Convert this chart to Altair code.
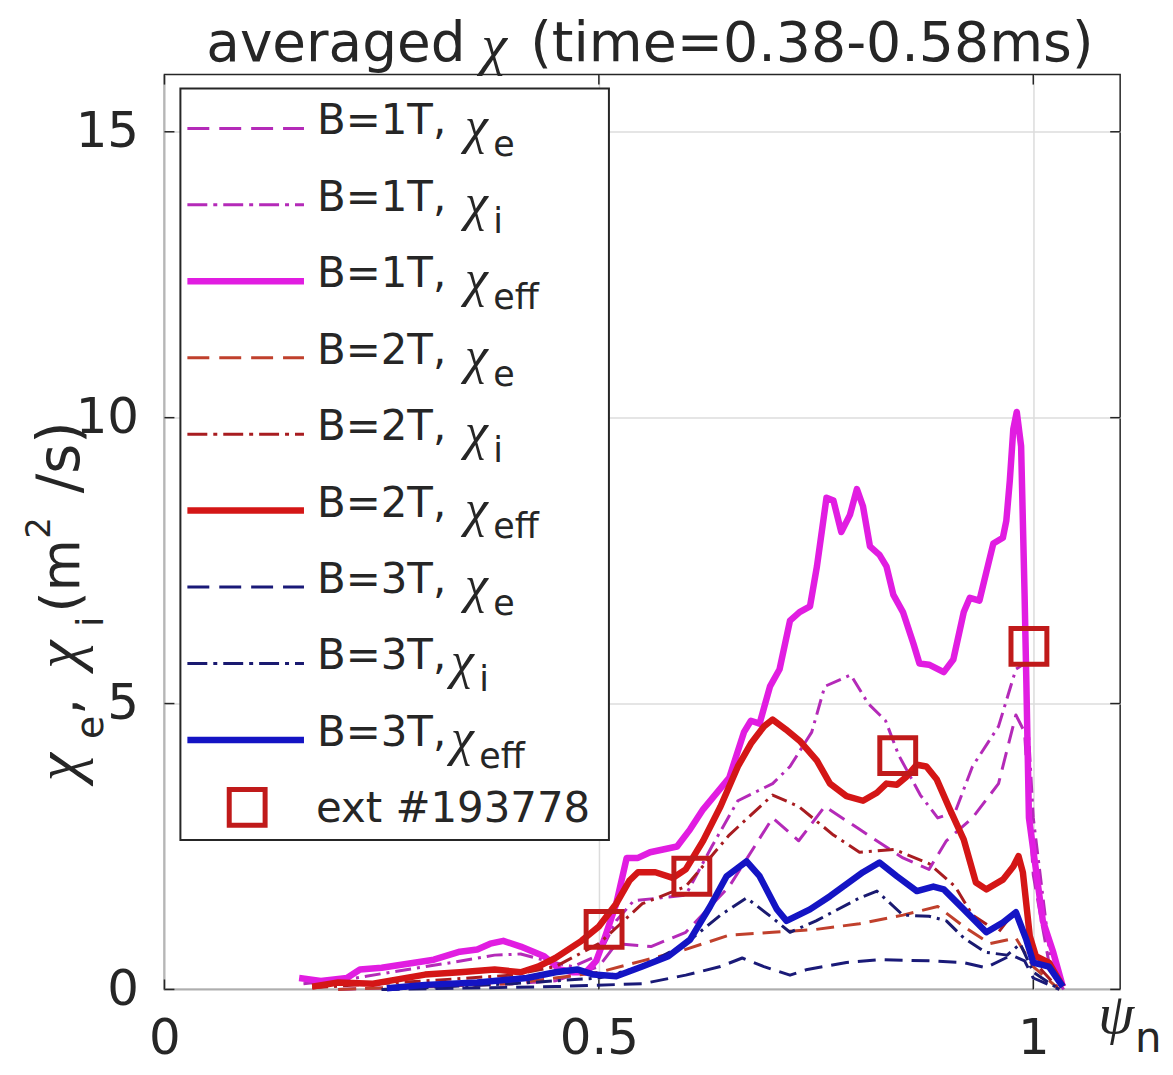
import altair as alt
import pandas as pd

# ---------------- data ----------------
X_TICKS = [0, 0.5, 1]
Y_TICKS = [0, 5, 10, 15]

B1_EFF_X = [0.155, 0.18, 0.21, 0.225, 0.25, 0.28, 0.31, 0.34, 0.36, 0.375, 0.39, 0.41, 0.437, 0.455, 0.47, 0.485,
            0.497, 0.506, 0.52, 0.532, 0.545, 0.559, 0.59, 0.605, 0.62, 0.65, 0.667, 0.675, 0.685, 0.697, 0.708,
            0.72, 0.731, 0.743, 0.751, 0.762, 0.77, 0.779, 0.789, 0.797, 0.804, 0.812, 0.823, 0.831, 0.839, 0.85,
            0.862, 0.869, 0.88, 0.897, 0.908, 0.92, 0.927, 0.938, 0.946, 0.954, 0.965, 0.969, 0.973, 0.977, 0.981,
            0.986, 0.988, 0.99, 0.992, 0.995, 1.011, 1.023, 1.034]
B1_EFF_Y = [0.2, 0.15, 0.2, 0.35, 0.38, 0.45, 0.52, 0.66, 0.7, 0.8, 0.85, 0.75, 0.58, 0.35, 0.3, 0.3,
            0.5, 0.87, 1.5, 2.3, 2.3, 2.4, 2.5, 2.8, 3.15, 3.7, 4.5, 4.7, 4.65, 5.3, 5.6,
            6.45, 6.6, 6.7, 7.4, 8.6, 8.55, 8.0, 8.3, 8.75, 8.45, 7.75, 7.6, 7.4, 6.9, 6.6,
            6.05, 5.7, 5.68, 5.55, 5.77, 6.6, 6.85, 6.8, 7.3, 7.8, 7.9, 8.2, 8.9, 9.8, 10.1,
            9.5, 8.2, 6.9, 5.4, 3.0, 1.2, 0.65, 0.05]

B1_I_X = [0.16, 0.22, 0.28, 0.33, 0.38, 0.41, 0.44, 0.47, 0.5, 0.52, 0.54, 0.57, 0.6, 0.63, 0.66, 0.7, 0.72,
          0.745, 0.76, 0.79, 0.81, 0.83, 0.845, 0.87, 0.89, 0.91, 0.93, 0.96, 0.98, 0.99, 1.0, 1.02, 1.035]
B1_I_Y = [0.1, 0.2, 0.35, 0.47, 0.6, 0.62, 0.5, 0.4, 0.6, 1.2, 1.55, 1.6, 1.65, 2.5, 3.3, 3.6, 3.9,
          4.5, 5.3, 5.5, 5.0, 4.7, 4.1, 3.4, 3.0, 3.1, 3.9, 4.6, 5.6, 5.7, 3.0, 0.5, 0.0]

B1_E_X = [0.2, 0.3, 0.4, 0.45, 0.5, 0.52, 0.56, 0.6, 0.65, 0.7, 0.73, 0.76, 0.8, 0.85, 0.88, 0.9, 0.93,
          0.96, 0.98, 0.99, 1.0, 1.02, 1.035]
B1_E_Y = [0.0, 0.05, 0.1, 0.15, 0.4, 0.8, 0.75, 1.0, 1.8, 3.0, 2.6, 3.2, 2.8, 2.3, 2.1, 2.6, 3.0,
          3.6, 4.8, 4.5, 2.0, 0.3, 0.0]

B2_EFF_X = [0.17, 0.2, 0.24, 0.27, 0.3, 0.34, 0.38, 0.41, 0.43, 0.45, 0.48, 0.5, 0.52, 0.535, 0.545, 0.565,
            0.585, 0.6, 0.62, 0.64, 0.66, 0.675, 0.69, 0.7, 0.715, 0.731, 0.751, 0.766, 0.785, 0.804, 0.82,
            0.831, 0.843, 0.854, 0.866, 0.877, 0.889, 0.904, 0.92, 0.934, 0.946, 0.965, 0.977, 0.983, 0.988,
            0.996, 1.003, 1.018, 1.034]
B2_EFF_Y = [0.05, 0.12, 0.1, 0.18, 0.26, 0.3, 0.35, 0.3, 0.4, 0.55, 0.85, 1.1, 1.5, 1.9, 2.05, 2.05,
            1.95, 2.1, 2.6, 3.2, 3.9, 4.3, 4.6, 4.72, 4.55, 4.35, 4.0, 3.6, 3.38, 3.3, 3.44,
            3.6, 3.58, 3.72, 3.93, 3.9, 3.67, 3.15, 2.62, 1.87, 1.75, 1.92, 2.15, 2.33, 2.05,
            0.93, 0.58, 0.47, 0.05]

B2_I_X = [0.17, 0.3, 0.4, 0.45, 0.5, 0.55, 0.6, 0.65, 0.7, 0.73, 0.77, 0.8, 0.84, 0.88, 0.91, 0.93, 0.96,
          0.98, 1.0, 1.03]
B2_I_Y = [0.03, 0.15, 0.25, 0.4, 0.8, 1.5, 1.8, 2.7, 3.4, 3.2, 2.7, 2.4, 2.45, 2.2, 1.8, 1.3, 1.0,
          1.4, 0.5, 0.0]

B2_E_X = [0.2, 0.4, 0.5, 0.55, 0.6, 0.65, 0.7, 0.75, 0.8, 0.85, 0.89, 0.92, 0.95, 0.98, 1.0, 1.03]
B2_E_Y = [0.0, 0.1, 0.3, 0.5, 0.7, 0.95, 1.0, 1.05, 1.15, 1.3, 1.45, 1.1, 0.8, 0.9, 0.4, 0.0]

B3_EFF_X = [0.256, 0.3, 0.36, 0.417, 0.45, 0.475, 0.494, 0.52, 0.55, 0.58, 0.605, 0.628, 0.647, 0.67, 0.685,
            0.705, 0.716, 0.743, 0.766, 0.804, 0.823, 0.843, 0.866, 0.885, 0.897, 0.92, 0.946, 0.965, 0.98,
            0.992, 1.0, 1.018, 1.034]
B3_EFF_Y = [0.02, 0.08, 0.12, 0.2, 0.3, 0.35, 0.26, 0.23, 0.4, 0.58, 0.87, 1.45, 1.98, 2.24, 1.98,
            1.4, 1.2, 1.4, 1.63, 2.05, 2.22, 1.98, 1.72, 1.8, 1.75, 1.4, 1.0, 1.17, 1.35,
            0.87, 0.47, 0.4, 0.05]

B3_I_X = [0.25, 0.4, 0.5, 0.55, 0.6, 0.64, 0.67, 0.7, 0.72, 0.75, 0.8, 0.82, 0.85, 0.88, 0.9, 0.92, 0.945,
          0.97, 0.985, 1.0, 1.03]
B3_I_Y = [0.0, 0.1, 0.2, 0.4, 0.8, 1.3, 1.6, 1.25, 1.0, 1.2, 1.6, 1.72, 1.3, 1.28, 1.2, 0.9, 0.65,
          0.6, 0.8, 0.3, 0.0]

B3_E_X = [0.25, 0.45, 0.55, 0.6, 0.64, 0.665, 0.69, 0.72, 0.74, 0.785, 0.823, 0.88, 0.92, 0.945, 0.975,
          0.99, 1.0, 1.03]
B3_E_Y = [0.0, 0.05, 0.1, 0.25, 0.4, 0.55, 0.4, 0.25, 0.35, 0.47, 0.52, 0.5, 0.47, 0.38, 0.6,
          0.5, 0.2, 0.0]

EXT_X = [0.506, 0.607, 0.844, 0.995]
EXT_Y = [1.05, 1.98, 4.09, 6.0]

SERIES_B = ["B=1T,", "B=1T,", "B=1T,", "B=2T,", "B=2T,", "B=2T,", "B=3T,", "B=3T,", "B=3T,"]
SERIES_SUB = ["e", "i", "eff", "e", "i", "eff", "e", "i", "eff"]
EXT_LABEL = "ext #193778"
TITLE_A = "averaged"
TITLE_B = "(time=0.38-0.58ms)"

# ---------------- styles ----------------
W, H = 959, 918
INK = "#262626"
SANS = "DejaVu Sans"
SERIF = "Liberation Serif"
C1_THIN, C1 = "#B42AB8", "#E11DE1"
C2_E, C2_I, C2 = "#C0402C", "#A81C20", "#D41616"
C3_E, C3_I, C3 = "#1A1A78", "#1A1A70", "#1414C4"
SQ = "#C01A1A"
DASH = [18, 9]
DASHDOT = [16, 6, 3, 6]

series = [
    (B1_E_X, B1_E_Y, C1_THIN, DASH, 3),
    (B1_I_X, B1_I_Y, C1_THIN, DASHDOT, 3),
    (B1_EFF_X, B1_EFF_Y, C1, None, 6.5),
    (B2_E_X, B2_E_Y, C2_E, DASH, 3),
    (B2_I_X, B2_I_Y, C2_I, DASHDOT, 3),
    (B2_EFF_X, B2_EFF_Y, C2, None, 6.5),
    (B3_E_X, B3_E_Y, C3_E, DASH, 3),
    (B3_I_X, B3_I_Y, C3_I, DASHDOT, 3),
    (B3_EFF_X, B3_EFF_Y, C3, None, 6.5),
]

x_scale = alt.Scale(domain=[0, 1.1], nice=False, zero=False)
y_scale = alt.Scale(domain=[0, 16], nice=False, zero=False)
x_axis = alt.Axis(values=X_TICKS, title=None, grid=True, domain=False, ticks=False, labelFlush=False,
                  labelFontSize=50, labelPadding=24,
                  labelExpr="datum.value == 0 ? '0' : datum.value == 1 ? '1' : datum.label")
y_axis = alt.Axis(values=Y_TICKS, title=None, grid=True, domain=False, ticks=False, labelFlush=False,
                  labelFontSize=50, labelPadding=26)

one = pd.DataFrame({"k": [0]})
layers = []

# inside tick marks
xt = pd.DataFrame({"psi": X_TICKS})
yt = pd.DataFrame({"chi": Y_TICKS})
for y0, y1 in [(H, H - 10), (0, 10)]:
    layers.append(alt.Chart(xt).mark_rule(color=INK, strokeWidth=1.5).encode(
        x=alt.X("psi:Q", scale=x_scale, axis=x_axis), y=alt.value(y0), y2=alt.value(y1)))
for x0, x1 in [(0, 10), (W, W - 10)]:
    layers.append(alt.Chart(yt).mark_rule(color=INK, strokeWidth=1.5).encode(
        y=alt.Y("chi:Q", scale=y_scale, axis=y_axis), x=alt.value(x0), x2=alt.value(x1)))

# data lines
for xs, ys, col, dash, sw in series:
    df = pd.DataFrame({"psi": xs, "chi": ys})
    kw = dict(color=col, strokeWidth=sw, strokeJoin="round")
    if dash:
        kw["strokeDash"] = dash
    layers.append(alt.Chart(df).mark_line(**kw).encode(
        x=alt.X("psi:Q", scale=x_scale, axis=x_axis),
        y=alt.Y("chi:Q", scale=y_scale, axis=y_axis),
        order="psi:Q"))

# experimental squares
ext = pd.DataFrame({"psi": EXT_X, "chi": EXT_Y})
layers.append(alt.Chart(ext).mark_point(shape="square", size=1296, filled=False, strokeWidth=5,
                                         color=SQ, opacity=1).encode(
    x=alt.X("psi:Q", scale=x_scale, axis=x_axis),
    y=alt.Y("chi:Q", scale=y_scale, axis=y_axis)))


def txt(s, x, y, size, font=SANS, italic=False, align="left", angle=None, baseline="alphabetic"):
    kw = dict(text=s, font=font, fontSize=size, color=INK, align=align, baseline=baseline)
    if italic:
        kw["fontStyle"] = "italic"
    if angle is not None:
        kw["angle"] = angle
    return alt.Chart(one).mark_text(**kw).encode(x=alt.value(x), y=alt.value(y))


# legend box
layers.append(alt.Chart(one).mark_rect(fill="white", stroke=INK, strokeWidth=2).encode(
    x=alt.value(16), x2=alt.value(446), y=alt.value(14), y2=alt.value(768)))

ROW0, ROWH = 60, 76.7
for k, (xs, ys, col, dash, sw) in enumerate(series):
    base = ROW0 + k * ROWH
    kw = dict(color=col, strokeWidth=sw)
    if dash:
        kw["strokeDash"] = [22, 10] if dash == DASH else [20, 6, 4, 6]
    layers.append(alt.Chart(one).mark_rule(**kw).encode(
        x=alt.value(23), x2=alt.value(140), y=alt.value(base - 6)))
    layers.append(txt(SERIES_B[k], 153, base, 42))
    tight = k >= 7
    layers.append(txt("χ", 299 if tight else 313, base + 9, 52, font=SERIF, italic=True, align="center"))
    layers.append(txt(SERIES_SUB[k], 316 if tight else 330, base + 22, 35))

base = ROW0 + 9 * ROWH
layers.append(alt.Chart(one).mark_point(shape="square", size=1296, filled=False, strokeWidth=5,
                                         color=SQ, opacity=1).encode(
    x=alt.value(83), y=alt.value(base - 15)))
layers.append(txt(EXT_LABEL, 152, base, 42))

# title (baseline kept low enough that the text box stays inside the page)
layers.append(txt(TITLE_A, 42, -14, 55))
layers.append(txt("χ", 331, -11, 58, font=SERIF, italic=True, align="center"))
layers.append(txt(TITLE_B, 367, -14, 55.5))

# y-axis title pieces (rotated)
for s, size, font, ital, xb, yc in [
    ("χ", 64, SERIF, True, -86, 695),
    ("e", 38, SANS, False, -62, 655),
    (",", 52, SANS, False, -86, 634),
    ("χ", 64, SERIF, True, -86, 582),
    ("i", 38, SANS, False, -62, 549),
    ("(m", 54, SANS, False, -86, 503),
    ("2", 34, SANS, False, -115, 455),
    ("/s)", 58, SANS, False, -86, 384),
]:
    layers.append(txt(s, xb, yc, size, font=font, italic=ital, align="center", angle=270))

# x-axis label psi_n
layers.append(txt("ψ", 955, 962, 58, font=SERIF, italic=True, align="center"))
layers.append(txt("n", 974, 981, 42))

chart = alt.layer(*layers).properties(
    width=W, height=H,
    autosize=alt.AutoSizeParams(type="none"),
    padding={"left": 157, "top": 65, "right": 45, "bottom": 76},
).configure_view(stroke=INK, strokeWidth=1.5).configure_axis(
    labelFont=SANS, labelColor=INK, gridColor="#dcdcdc", gridWidth=1.5
)

chart.save("out.html", embed_options={"renderer": "svg", "actions": False})
